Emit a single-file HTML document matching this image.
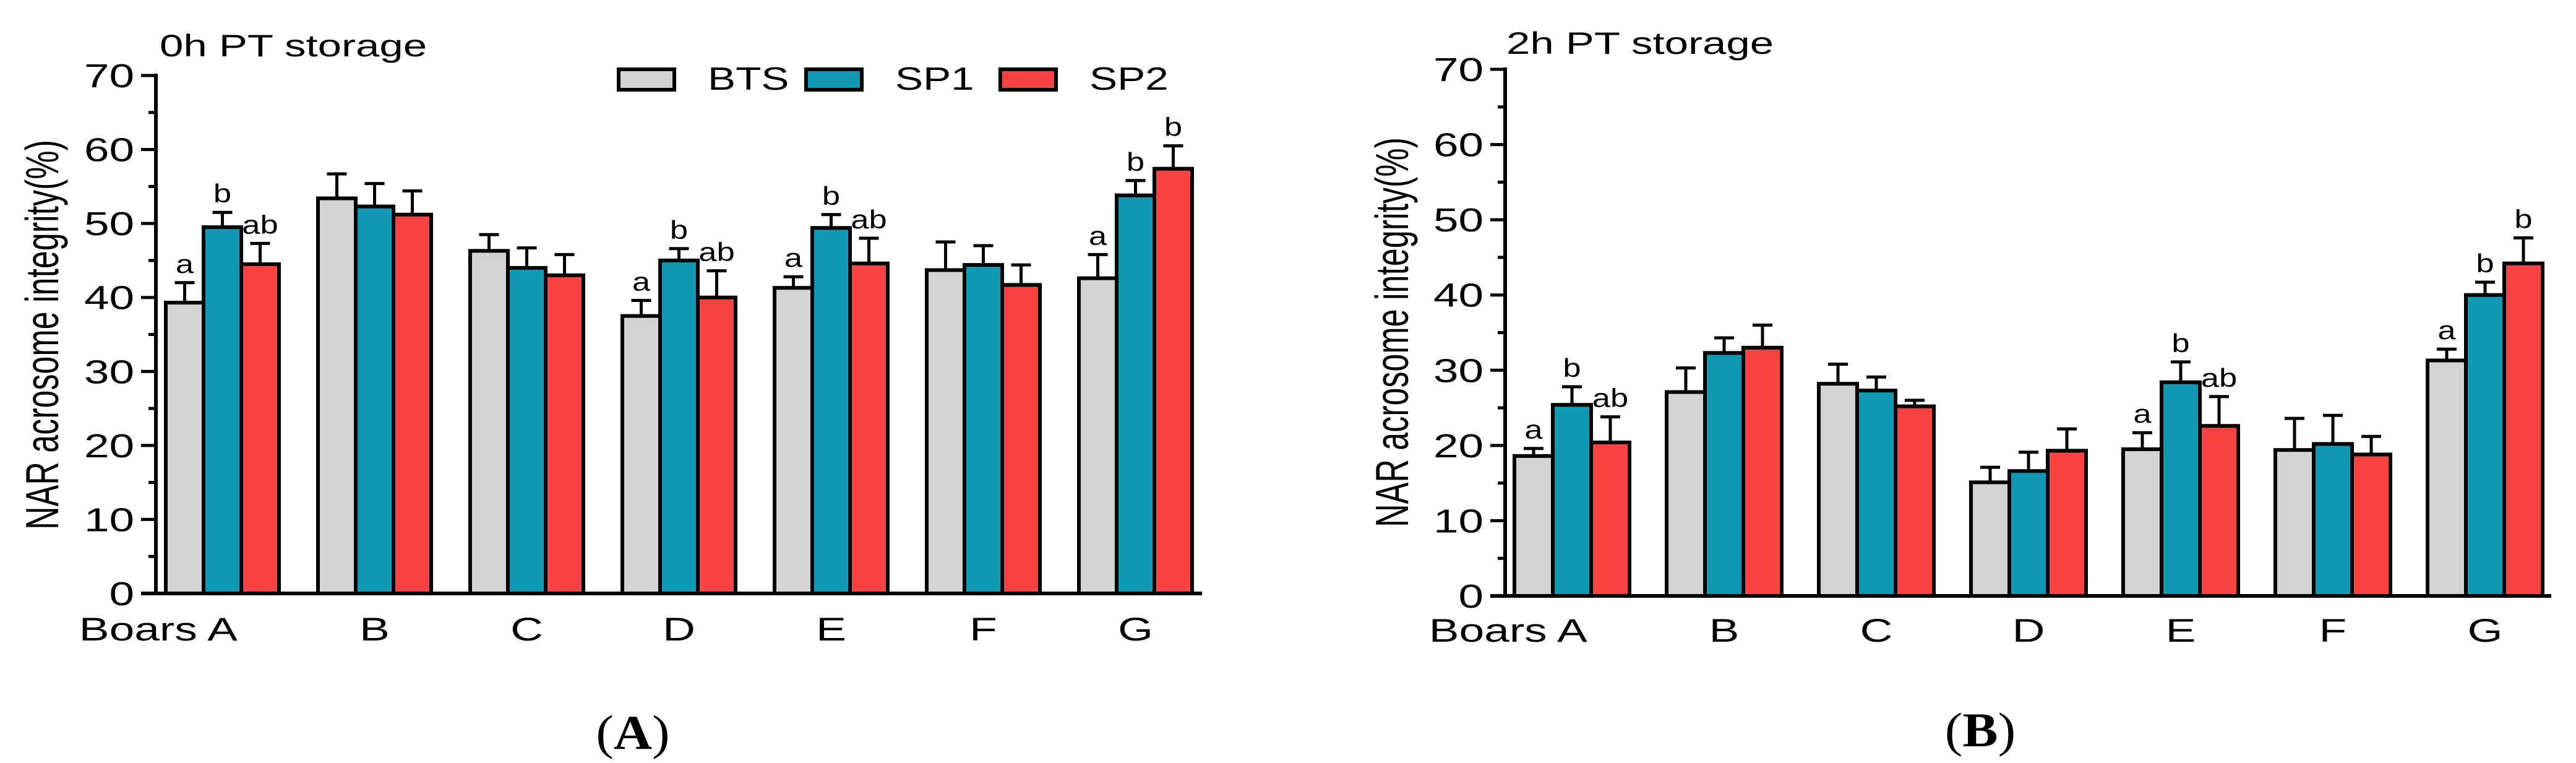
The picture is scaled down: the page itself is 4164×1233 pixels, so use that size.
<!DOCTYPE html>
<html><head><meta charset="utf-8"><style>
html,body{margin:0;padding:0;background:#fff;}
svg{display:block;}
text{font-family:"Liberation Sans",Arial,sans-serif;fill:#000;}
text.serif{font-family:"Liberation Serif","Times New Roman",serif;}
</style></head><body>
<svg id="fig" width="4164" height="1233" viewBox="0 0 4164 1233" xmlns="http://www.w3.org/2000/svg"></svg>
<script>
const categories = ["A","B","C","D","E","F","G"];
const seriesNames = ["BTS","SP1","SP2"];
const colors = ["#d3d3d3","#1198b3","#f94242"];
const yTicks = [0,10,20,30,40,50,60,70];
// Panel A (0h)
const a_bts = [39.3,53.4,46.3,37.5,41.3,43.7,42.6];
const a_sp1 = [49.5,52.3,44.0,45.0,49.4,44.4,53.8];
const a_sp2 = [44.5,51.2,43.0,40.0,44.6,41.7,57.4];
const a_bts_err = [42.0,56.7,48.5,39.6,42.8,47.5,45.8];
const a_sp1_err = [51.5,55.4,46.7,46.6,51.2,47.0,55.8];
const a_sp2_err = [47.3,54.4,45.8,43.6,48.0,44.4,60.5];
const a_bts_lab = ["a","","","a","a","","a"];
const a_sp1_lab = ["b","","","b","b","","b"];
const a_sp2_lab = ["ab","","","ab","ab","","b"];
// Panel B (2h)
const b_bts = [18.6,27.1,28.2,15.1,19.5,19.4,31.3];
const b_sp1 = [25.4,32.3,27.3,16.6,28.4,20.2,40.0];
const b_sp2 = [20.4,33.0,25.2,19.3,22.6,18.8,44.2];
const b_bts_err = [19.6,30.3,30.8,17.1,21.7,23.6,32.8];
const b_sp1_err = [27.8,34.3,29.1,19.1,31.1,24.0,41.7];
const b_sp2_err = [23.8,36.0,26.0,22.2,26.5,21.2,47.6];
const b_bts_lab = ["a","","","","a","","a"];
const b_sp1_lab = ["b","","","","b","","b"];
const b_sp2_lab = ["ab","","","ab".slice(0,0)+"ab","ab","","b"].map((v,i)=>[ "ab","","","","ab","","b"][i]);

const NS="http://www.w3.org/2000/svg";
const svg=document.getElementById('fig');
function mk(tag,attrs,parent){const e=document.createElementNS(NS,tag);for(const k in attrs)e.setAttribute(k,attrs[k]);(parent||svg).appendChild(e);return e;}
function txt(x,y,s,size,anchor,parent,sx){
  const t=mk('text',{transform:`translate(${x},${y}) scale(${sx||1.4},1)`,'font-size':size,'text-anchor':anchor||'start'},parent);
  t.textContent=s;return t;
}

function chart(cfg){
  const g=mk('g',{});
  
  
  const yScale=v=>cfg.y0-(cfg.y0-cfg.y70)*v/70;
  const xBar=(i,s)=>cfg.firstBar+i*cfg.groupStep+s*cfg.barW;
  const ti=txt(cfg.titleX,cfg.titleY,cfg.title,50,'start',g,1.38);
  
  
  const vals=cfg.vals, errs=cfg.errs, labs=cfg.labs;
  for(let s=0;s<3;s++){
    for(let i=0;i<categories.length;i++){
      const x=xBar(i,s), yv=yScale(vals[s][i]), ye=yScale(errs[s][i]);
      const cx=x+cfg.barW/2;
      const eb=mk('path',{d:`M${cx},${yv} V${ye} M${cx-16},${ye} H${cx+16}`,stroke:'#000','stroke-width':5,fill:'none'},g);
      
      
      const r=mk('rect',{x:x,y:yv,width:cfg.barW,height:cfg.y0-yv,fill:colors[s],stroke:'#000','stroke-width':6},g);
      
      
      if(labs[s][i]){
        const l=txt(cx,ye-16,labs[s][i],42,'middle',g,1.25);
        
        
      }
    }
  }
  const ya=mk('path',{d:`M${cfg.axisX},${cfg.y70-3} V${cfg.y0}`,stroke:'#000','stroke-width':6,fill:'none'},g);
  
  
  const xa=mk('path',{d:`M${cfg.axisX-24},${cfg.y0} H${cfg.axisEnd}`,stroke:'#000','stroke-width':6,fill:'none'},g);
  
  
  for(let v=0;v<=70;v+=5){
    const y=yScale(v);
    const major=v%10===0;
    mk('path',{d:`M${cfg.axisX-(major?24:12)},${y} H${cfg.axisX}`,stroke:'#000','stroke-width':5},g);
  }
  yTicks.forEach(v=>{
    const t=txt(cfg.axisX-35,yScale(v)+19,String(v),54,'end',g,1.35);
    
    
  });
  categories.forEach((c,i)=>{
    const cx=xBar(i,0)+1.5*cfg.barW;
    let t;
    if(i===0){t=txt(cx+cfg.barW*0.4,cfg.xLabY,'Boars A',53,'end',g,1.38);}
    else t=txt(cx,cfg.xLabY,c,53,'middle',g,1.38);
    
    
  });
  const yt=mk('text',{transform:`translate(${cfg.yTitleX},${cfg.yTitleY}) scale(1.45,1) rotate(-90)`,'font-size':52,'text-anchor':'middle'},g);
  yt.textContent='NAR acrosome integrity(%)';
  
  
  const pl=mk('text',{transform:`translate(${cfg.panelX},${cfg.panelY}) scale(1.1,1)`,'font-size':78,'text-anchor':'middle','class':'serif'},g);
  pl.innerHTML='(<tspan font-weight="bold">'+cfg.panel+'</tspan>)';
  
  
  return g;
}

chart({name:'chart-0h',title:'0h PT storage',titleX:258,titleY:91,axisX:252,axisEnd:1943,y0:959,y70:122,
  firstBar:268,barW:61,groupStep:246,xLabY:1035,yTitleX:94,yTitleY:541,panel:'A',panelX:1023,panelY:1210,
  vals:[a_bts,a_sp1,a_sp2],errs:[a_bts_err,a_sp1_err,a_sp2_err],labs:[a_bts_lab,a_sp1_lab,a_sp2_lab]});
chart({name:'chart-2h',title:'2h PT storage',titleX:2435,titleY:87,axisX:2433,axisEnd:4124,y0:963,y70:112,
  firstBar:2448,barW:62,groupStep:246,xLabY:1037,yTitleX:2276,yTitleY:537,panel:'B',panelX:3201,panelY:1206,
  vals:[b_bts,b_sp1,b_sp2],errs:[b_bts_err,b_sp1_err,b_sp2_err],labs:[b_bts_lab,b_sp1_lab,b_sp2_lab]});

const leg=mk('g',{});


const legBoxX=[1000,1303,1617], legTxtX=[1144,1447,1761];
seriesNames.forEach((n,s)=>{
  const r=mk('rect',{x:legBoxX[s],y:112,width:90,height:33,fill:colors[s],stroke:'#000','stroke-width':6},leg);
  
  
  const t=txt(legTxtX[s],145,n,52,'start',leg,1.3);
  
  
});
</script>
</body></html>
